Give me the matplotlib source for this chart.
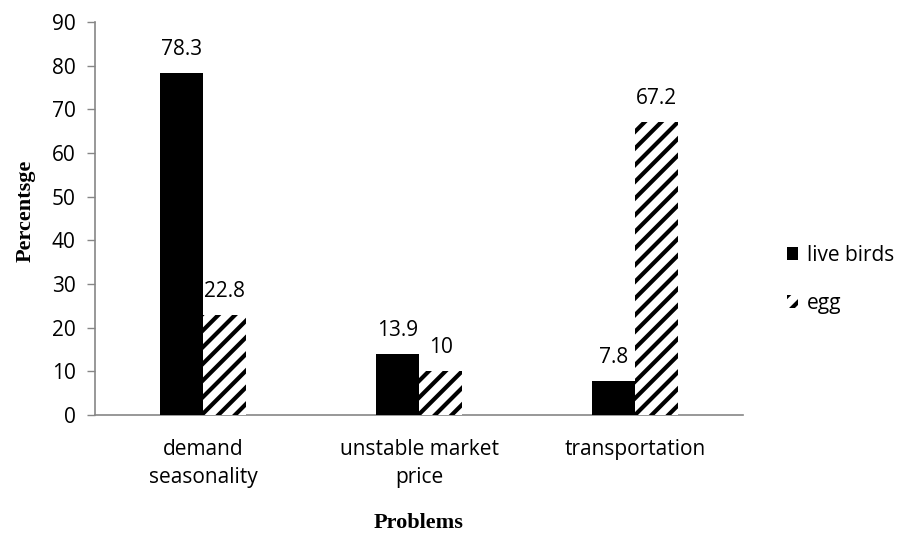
import matplotlib.pyplot as plt
import matplotlib.patches as mpatches
import numpy as np

# ── Data ──────────────────────────────────────────────────────────────────────

problems = ["demand\nseasonality", "unstable market\nprice", "transportation"]
live_birds = [78.3, 13.9, 7.8]
egg = [22.8, 10, 67.2]
value_labels_birds = ["78.3", "13.9", "7.8"]
value_labels_egg = ["22.8", "10", "67.2"]
y_ticks = [0, 10, 20, 30, 40, 50, 60, 70, 80, 90]

# ── Style ─────────────────────────────────────────────────────────────────────

_SANS = "Open Sans"
_SERIF = "Liberation Serif"
_AXIS = "#868686"
_FS = 15

plt.rcParams["hatch.linewidth"] = 3.0
plt.rcParams["hatch.color"] = "black"

fig = plt.figure(figsize=(9.05, 5.33), dpi=100)
ax = fig.add_axes([0.105, 0.2214, 0.716, 0.737])

x = np.arange(len(problems))
bar_w = 0.2

ax.bar(x - bar_w / 2, live_birds, width=bar_w, color="black", linewidth=0, zorder=3)
ax.bar(x + bar_w / 2, egg, width=bar_w, color="white", edgecolor="black",
       hatch="//", linewidth=0, zorder=3)

for xi, v, t in zip(x, live_birds, value_labels_birds):
    ax.text(xi - bar_w / 2, v + 3.0, t, ha="center", va="bottom",
            fontsize=_FS, family=_SANS)
for xi, v, t in zip(x, egg, value_labels_egg):
    ax.text(xi + bar_w / 2, v + 3.0, t, ha="center", va="bottom",
            fontsize=_FS, family=_SANS)

# ── Axes ──────────────────────────────────────────────────────────────────────

ax.set_xlim(-0.5, len(problems) - 0.5)
ax.set_ylim(0, 90)
ax.set_yticks(y_ticks)
ax.set_yticklabels([str(t) for t in y_ticks], fontsize=_FS, family=_SANS)
ax.set_xticks(x)
ax.set_xticklabels(problems, fontsize=_FS, family=_SANS, linespacing=1.45)
ax.tick_params(axis="x", length=0, pad=17)
ax.tick_params(axis="y", length=6, width=1, color=_AXIS, pad=8)

for side in ("top", "right"):
    ax.spines[side].set_visible(False)
for side in ("left", "bottom"):
    ax.spines[side].set_color(_AXIS)
    ax.spines[side].set_linewidth(1.2)

ax.set_xlabel("Problems", fontsize=16, fontweight="bold", family=_SERIF, labelpad=18)
ax.set_ylabel("Percentsge", fontsize=16, fontweight="bold", family=_SERIF)
ax.yaxis.set_label_coords(-0.092, 0.52)

# ── Legend ────────────────────────────────────────────────────────────────────

handles = [
    mpatches.Patch(facecolor="black", edgecolor="none", label="live birds"),
    mpatches.Patch(facecolor="white", edgecolor="black", hatch="//",
                   linewidth=0, label="egg"),
]
ax.legend(handles=handles, loc="center left", bbox_to_anchor=(1.039, 0.345),
          frameon=False, prop={"family": _SANS, "size": _FS},
          handlelength=0.55, handleheight=0.55, handletextpad=0.4, labelspacing=1.3)

plt.savefig("out.png", dpi=100, facecolor="white")
plt.close()
